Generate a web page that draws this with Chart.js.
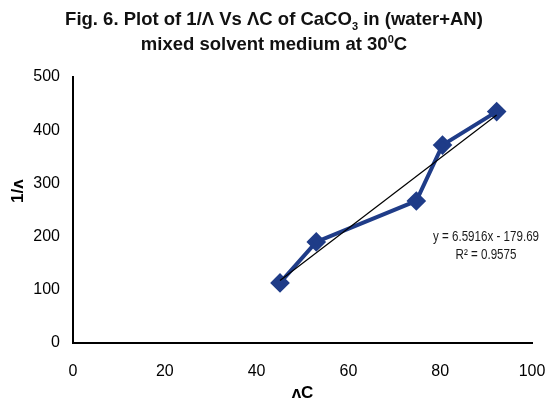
<!DOCTYPE html>
<html>
<head>
<meta charset="utf-8">
<script src="https://cdn.jsdelivr.net/npm/chart.js@4/dist/chart.umd.min.js"></script>
<style>
  html, body { margin: 0; padding: 0; background: #fff; }
  #wrap { position: relative; width: 548px; height: 406px; }
  #title {
    position: absolute; left: 0; top: 6px; width: 548px;
    text-align: center; font-family: "Liberation Sans", Arial, sans-serif;
    font-weight: bold; font-size: 18.5px; line-height: 25px; color: #111;
  }
  #title sub, #title sup { font-size: 11px; line-height: 0; }
  canvas { position: absolute; left: 0; top: 0; }
</style>
</head>
<body>
<div id="wrap">
  <canvas id="chart" width="548" height="406"></canvas>
  <div id="title">Fig. 6. Plot of 1/&Lambda; Vs &Lambda;C of CaCO<sub>3</sub> in (water+AN)<br>mixed solvent medium at 30<sup>0</sup>C</div>
</div>
<script>
// data
const lambdaC = [45.1, 53.0, 74.8, 80.5, 92.3];
const invLambda = [113, 190, 267, 372, 435];

// linear trend shown on the figure
const slope = 6.5916;
const intercept = -179.69;
const trendX = [45.1, 92.3];

const xTicks = [0, 20, 40, 60, 80, 100];
const yTicks = [0, 100, 200, 300, 400, 500];

const fontFamily = "'Liberation Sans', Arial, sans-serif";
const tickFont = { family: fontFamily, size: 16 };
const titleFont = { family: fontFamily, size: 17, weight: 'bold' };
const axisColor = '#000';

// equation label next to the trend line (text is narrow in the original, so squeeze it)
const eqLabel = {
    id: 'eqLabel',
    afterDatasetsDraw(chart) {
        const ctx = chart.ctx;
        const area = chart.chartArea;
        const cx = area.right - 46;
        ctx.save();
        ctx.fillStyle = '#1a1a1a';
        ctx.font = '14.5px ' + fontFamily;
        ctx.textAlign = 'center';
        ctx.textBaseline = 'middle';
        ctx.translate(cx, 0);
        ctx.scale(0.8, 1);
        ctx.fillText('y = ' + slope + 'x - ' + Math.abs(intercept), 0, area.top + 160);
        ctx.fillText('R² = 0.9575', 0, area.top + 178);
        ctx.restore();
    }
};

new Chart(document.getElementById('chart').getContext('2d'), {
    type: 'scatter',
    data: {
        datasets: [
            {
                label: 'data',
                data: lambdaC.map((x, i) => ({ x: x, y: invLambda[i] })),
                showLine: true,
                borderColor: '#1f3c88',
                backgroundColor: '#1f3c88',
                borderWidth: 4,
                pointStyle: 'rectRot',
                pointRadius: 7,
                pointHoverRadius: 7,
                order: 2,
            },
            {
                label: 'trend',
                data: trendX.map(x => ({ x: x, y: slope * x + intercept })),
                showLine: true,
                borderColor: '#000',
                borderWidth: 1.2,
                pointRadius: 0,
                order: 1,
            },
        ],
    },
    options: {
        responsive: false,
        animation: false,
        layout: { padding: { top: 77, right: 16, left: 0, bottom: 0 } },
        plugins: {
            legend: { display: false },
            tooltip: { enabled: false },
        },
        scales: {
            x: {
                type: 'linear',
                min: 0,
                max: 100,
                afterBuildTicks: s => { s.ticks = xTicks.map(v => ({ value: v })); },
                afterFit: s => {
                    s.height = 63;
                    // don't let the label padding eat into the plot width
                    s.paddingLeft = 0;
                    s.paddingRight = 0;
                },
                grid: { display: false, drawOnChartArea: false, drawTicks: true, tickLength: 5, color: axisColor },
                border: { color: axisColor, width: 2 },
                ticks: { color: '#000', font: tickFont, padding: 14, maxRotation: 0 },
                title: {
                    display: true, text: 'ʌC', color: '#000', font: titleFont,
                    padding: { top: 0, bottom: 2 },
                },
            },
            y: {
                min: 0,
                max: 500,
                afterBuildTicks: s => { s.ticks = yTicks.map(v => ({ value: v })); },
                afterFit: s => { s.width = 73; },
                grid: { display: false, drawOnChartArea: false, drawTicks: true, tickLength: 5, color: axisColor },
                border: { color: axisColor, width: 2 },
                ticks: { color: '#000', font: tickFont, padding: 8 },
                title: {
                    // leading spaces nudge the label up a little, as in the original
                    display: true, text: '        1/ʌ', color: '#000', font: titleFont,
                    padding: { top: 8, bottom: 0 },
                },
            },
        },
    },
    plugins: [eqLabel],
});
</script>
</body>
</html>
